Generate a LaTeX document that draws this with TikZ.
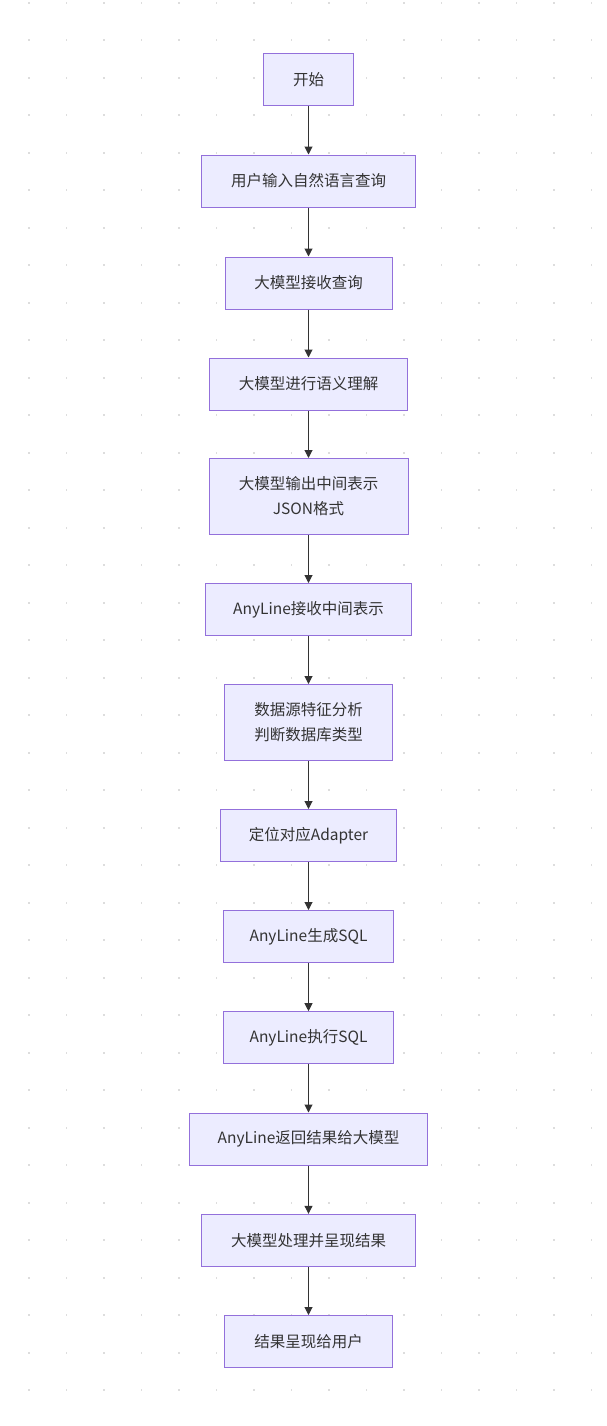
\documentclass[tikz,border=0pt]{standalone}
\usepackage{fontspec}
\setmainfont{Noto Sans CJK SC}
\usetikzlibrary{arrows.meta}
\definecolor{boxfill}{HTML}{ECECFF}
\definecolor{boxline}{HTML}{9370DB}
\definecolor{txt}{HTML}{333333}
\definecolor{dotc}{HTML}{DDDDDD}
\tikzset{
  flowbox/.style={draw=boxline, fill=boxfill, line width=1pt, inner sep=0pt,
    text=txt, font=\fontsize{15.5pt}{25pt}\selectfont, align=center},
  flowarrow/.style={draw=txt, line width=1pt, -{Triangle[length=8pt,width=8pt]}}
}
\begin{document}
\begin{tikzpicture}[x=1pt,y=-1pt]
\useasboundingbox[fill=white] (0,0) rectangle (606,1426);
\foreach \i in {0,...,15}{
  \foreach \j in {0,...,37}{
    \fill[dotc] ({29+37.5*\i-0.9},{2.7+37.5*\j-0.9}) rectangle ++(1.8,1.8);
  }
}
\node[flowbox, minimum width=90pt,  minimum height=52pt] (n1)  at (308.5,80)   {开始};
\node[flowbox, minimum width=214pt, minimum height=52pt] (n2)  at (308.5,181)  {用户输入自然语言查询};
\node[flowbox, minimum width=167pt, minimum height=52pt] (n3)  at (308.5,283)  {大模型接收查询};
\node[flowbox, minimum width=198pt, minimum height=52pt] (n4)  at (308.5,384)  {大模型进行语义理解};
\node[flowbox, minimum width=199pt, minimum height=76pt] (n5)  at (308.5,496.5) {大模型输出中间表示\\JSON格式};
\node[flowbox, minimum width=206pt, minimum height=52pt] (n6)  at (308.5,609.5) {AnyLine接收中间表示};
\node[flowbox, minimum width=168pt, minimum height=76pt] (n7)  at (308.5,722.5) {数据源特征分析\\判断数据库类型};
\node[flowbox, minimum width=176pt, minimum height=52pt] (n8)  at (308.5,835.5) {定位对应Adapter};
\node[flowbox, minimum width=170pt, minimum height=52pt] (n9)  at (308.5,936.5) {AnyLine生成SQL};
\node[flowbox, minimum width=170pt, minimum height=52pt] (n10) at (308.5,1037.7) {AnyLine执行SQL};
\node[flowbox, minimum width=238pt, minimum height=52pt] (n11) at (308.5,1139) {AnyLine返回结果给大模型};
\node[flowbox, minimum width=214pt, minimum height=52pt] (n12) at (308.5,1240.3) {大模型处理并呈现结果};
\node[flowbox, minimum width=168pt, minimum height=52pt] (n13) at (308.5,1341.5) {结果呈现给用户};
\foreach \a/\b in {n1/n2,n2/n3,n3/n4,n4/n5,n5/n6,n6/n7,n7/n8,n8/n9,n9/n10,n10/n11,n11/n12,n12/n13}{
  \draw[flowarrow] (\a.south) -- (\b.north);
}
\end{tikzpicture}
\end{document}
